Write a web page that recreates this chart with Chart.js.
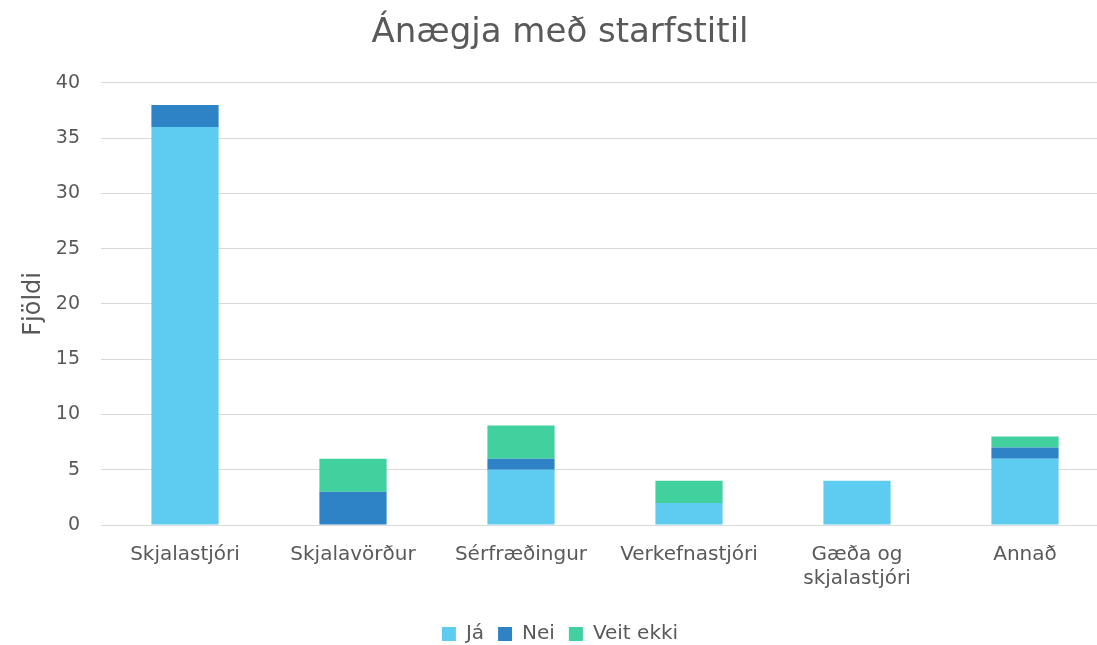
<!DOCTYPE html>
<html>
<head>
<meta charset="utf-8">
<script src="https://cdn.jsdelivr.net/npm/chart.js@4.4.0/dist/chart.umd.min.js"></script>
<style>
  html, body { margin: 0; padding: 0; background: #fff; overflow: hidden; }
  #wrap { width: 1109px; height: 645px; }
</style>
</head>
<body>
<div id="wrap"><canvas id="myChart"></canvas></div>
<script>
const ctx = document.getElementById('myChart');

const flokkar = ['Skjalastjóri', 'Skjalavörður', 'Sérfræðingur', 'Verkefnastjóri', ['Gæða og', 'skjalastjóri'], 'Annað']
const ja = [36, 0, 5, 2, 4, 6]
const nei = [2, 3, 1, 0, 0, 1]
const veitEkki = [0, 3, 3, 2, 0, 1]
const yTicks = [0, 5, 10, 15, 20, 25, 30, 35, 40]

const textColor = '#595959'
const font = 'DejaVu Sans'

let chart_1 = new Chart(ctx, {
  type: 'bar',
  data: {
    labels: flokkar,
    datasets: [
      { label: 'Já', data: ja, backgroundColor: '#5ecbf0' },
      { label: 'Nei', data: nei, backgroundColor: '#2e83c6' },
      { label: 'Veit ekki', data: veitEkki, backgroundColor: '#41d19f' }
    ]
  },
  options: {
    responsive: true,
    maintainAspectRatio: false,
    animation: false,
    layout: { padding: { left: 11, right: 0, top: 8, bottom: -9 } },
    datasets: { bar: { categoryPercentage: 1, barPercentage: 0.4 } },
    plugins: {
      title: {
        display: true,
        text: 'Ánægja með starfstitil',
        color: textColor,
        font: { family: font, size: 34, weight: 'normal' },
        padding: { top: 5, bottom: 29 }
      },
      legend: {
        position: 'bottom',
        labels: {
          color: textColor,
          font: { family: font, size: 20 },
          boxWidth: 14,
          boxHeight: 14,
          padding: 14
        }
      },
      tooltip: { enabled: false }
    },
    scales: {
      x: {
        stacked: true,
        grid: { display: false },
        border: { color: '#d9d9d9' },
        afterFit: axis => { axis.height += 9 },
        ticks: { color: textColor, font: { family: font, size: 20, lineHeight: 1.2 }, maxRotation: 0, padding: 10 }
      },
      y: {
        stacked: true,
        min: 0,
        max: 40,
        afterBuildTicks: axis => { axis.ticks = yTicks.map(v => ({ value: v })) },
        afterFit: axis => { axis.width = 90 },
        grid: { color: '#d9d9d9', drawTicks: false },
        border: { display: false },
        ticks: { color: textColor, font: { family: font, size: 19 }, padding: 21 },
        title: {
          display: true,
          text: 'Fjöldi',
          color: textColor,
          font: { family: font, size: 24 },
          padding: { top: 8, bottom: 0 }
        }
      }
    }
  }
});
</script>
</body>
</html>
